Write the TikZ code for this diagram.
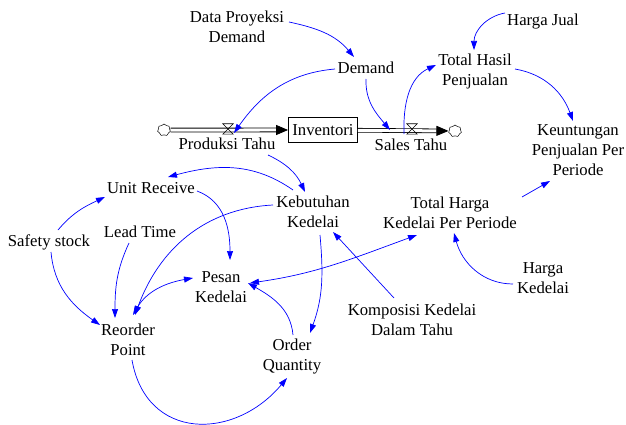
\documentclass[tikz,border=0pt]{standalone}
\usepackage{fontspec}
\setmainfont{Liberation Serif}
\usetikzlibrary{arrows.meta,shapes.symbols}
\tikzset{
  var/.style={align=center,inner sep=1pt,font=\fontsize{16.7}{20}\selectfont},
  stock/.style={var,draw,line width=0.8pt,minimum width=69pt,minimum height=25pt,inner sep=2pt},
  sink/.style={draw,cloud,cloud puffs=7,cloud puff arc=130,aspect=1.1,minimum width=13pt,minimum height=12pt,inner sep=0pt,line width=0.5pt,fill=white},
  valvebox/.style={minimum width=10pt,minimum height=10pt,inner sep=0pt},
  pipe/.style={double,double distance=3pt,line width=0.8pt,-{Triangle[length=12pt,width=10pt]}},
  link/.style={blue,line width=0.7pt,-{Triangle[length=9pt,width=6pt]}},
  linkb/.style={link,{Triangle[length=9pt,width=6pt]}-{Triangle[length=9pt,width=6pt]}}
}
\newcommand\valve[2]{\node[valvebox] (#1) at (#2) {};
  \draw[line width=0.6pt] (#1.north west) -- (#1.north east) -- (#1.south west) -- (#1.south east) -- cycle;}

\begin{document}
\begin{tikzpicture}[x=1pt,y=1pt]
\useasboundingbox (0,0) rectangle (626,-425);
% stock and flows
\node[stock] (inv) at (323,-130) {Inventori};
\node[sink] (cl1) at (164,-130) {};
\node[sink] (cl2) at (455,-131) {};
\draw[pipe] (cl1) -- (inv);
\draw[pipe] (inv) -- (cl2);
\valve{vP}{228,-129}
\valve{vS}{412,-129}
\node[var] (pt) at (227,-144) {Produksi Tahu};
\node[var] (st) at (411,-145) {Sales Tahu};
% variables
\node[var] (dpd) at (237,-27) {Data Proyeksi\\Demand};
\node[var] (dem) at (366,-68) {Demand};
\node[var] (hj) at (543,-22) {Harga Jual};
\node[var] (ths) at (475,-71) {Total Hasil\\Penjualan};
\node[var] (kpp) at (578,-150) {Keuntungan\\Penjualan Per\\Periode};
\node[var] (ur) at (151,-188) {Unit Receive};
\node[var] (kk) at (313,-212) {Kebutuhan\\Kedelai};
\node[var] (thk) at (450,-213) {Total Harga\\Kedelai Per Periode};
\node[var] (ss) at (49,-242) {Safety stock};
\node[var] (lt) at (140,-232) {Lead Time};
\node[var] (pk) at (221,-287) {Pesan\\Kedelai};
\node[var] (hk) at (543,-278) {Harga\\Kedelai};
\node[var] (kdt) at (412,-320) {Komposisi Kedelai\\Dalam Tahu};
\node[var] (rp) at (128,-340) {Reorder\\Point};
\node[var] (oq) at (292,-357) {Order\\Quantity};
% links
\draw[link] ([shift={(52,5)}]dpd.center) to[out=-12,in=130] ([shift={(-12,11)}]dem.center);
\draw[link] ([shift={(-31,-1)}]dem.center) to[out=185,in=55] ([shift={(6,-4)}]vP.center);
\draw[link] ([shift={(0,-11)}]dem.center) to[out=-92,in=130] ([shift={(-21,15)}]st.center);
\draw[link] ([shift={(-8,-5)}]vS.center) to[out=92,in=205] ([shift={(-39,6)}]ths.center);
\draw[link] ([shift={(-38,9)}]hj.center) to[out=190,in=90] ([shift={(-1,21)}]ths.center);
\draw[link] ([shift={(40,2)}]ths.center) to[out=-10,in=110] ([shift={(-5,29)}]kpp.center);
\draw[link] ([shift={(72,16)}]thk.center) -- ([shift={(-28,-31)}]kpp.center);
\draw[link] ([shift={(-30,-6)}]hk.center) to[out=180,in=-75] ([shift={(4,-20)}]thk.center);
\draw[link] ([shift={(-18,22)}]kdt.center) -- ([shift={(20,-20)}]kk.center);
\draw[linkb] ([shift={(29,4)}]pk.center) to[out=8,in=200] ([shift={(-33,-22)}]thk.center);
\draw[link] ([shift={(41,-11)}]pt.center) to[out=-25,in=115] ([shift={(-8,20)}]kk.center);
\draw[link] ([shift={(-20,22)}]kk.center) to[out=145,in=15] ([shift={(17,11)}]ur.center);
\draw[link] ([shift={(-40,7)}]kk.center) to[out=183,in=70] ([shift={(7,25)}]rp.center);
\draw[link] ([shift={(7,-23)}]kk.center) to[out=-85,in=70] ([shift={(18,24)}]oq.center);
\draw[link] ([shift={(46,-3)}]ur.center) to[out=-20,in=90] ([shift={(9,27)}]pk.center);
\draw[link] ([shift={(9,12)}]ss.center) to[out=50,in=205] ([shift={(-46,-9)}]ur.center);
\draw[link] ([shift={(2,-10)}]ss.center) to[out=-85,in=145] ([shift={(-28,15)}]rp.center);
\draw[link] ([shift={(-11,-11)}]lt.center) to[out=-115,in=90] ([shift={(-13,22)}]rp.center);
\draw[linkb] ([shift={(5,25)}]rp.center) to[out=60,in=190] ([shift={(-28,9)}]pk.center);
\draw[link] ([shift={(1,22)}]oq.center) to[out=95,in=-30] ([shift={(27,4)}]pk.center);
\draw[link] ([shift={(4,-20)}]rp.center) to[out=-80,in=-130,looseness=1.35] ([shift={(-5,-21)}]oq.center);
\end{tikzpicture}
\end{document}
